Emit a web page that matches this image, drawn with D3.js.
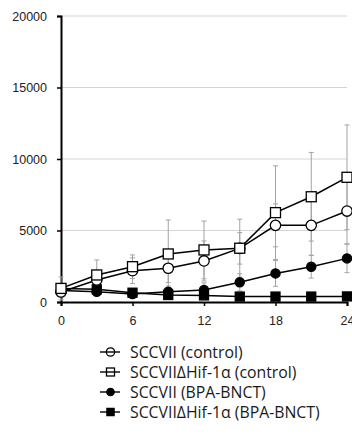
<!DOCTYPE html>
<html>
<head>
<meta charset="utf-8">
<script src="https://cdn.jsdelivr.net/npm/d3@7"></script>
<style>
  html, body { margin: 0; padding: 0; background: #fff; }
  svg { display: block; font-family: "Open Sans", "Noto Sans", sans-serif; }
</style>
</head>
<body>
<svg id="chart" width="352" height="439"></svg>
<script>
// Tumour volume over days after treatment
const days = [0, 3, 6, 9, 12, 15, 18, 21, 24];

const ctrlMean    = [700, 1540, 2190, 2360, 2870, 3750, 5360, 5360, 6360];
const ctrlSd      = [250, 700, 900, 1000, 1400, 1100, 1500, 2100, 2300];

const hifCtrlMean = [950, 1890, 2470, 3360, 3640, 3760, 6250, 7360, 8720];
const hifCtrlSd   = [800, 1050, 820, 2370, 2020, 2030, 3270, 3100, 3660];

const bnctMean    = [800, 720, 560, 720, 840, 1380, 2000, 2470, 3050];
const bnctSd      = [200, 250, 200, 400, 500, 600, 900, 800, 1000];

const hifBnctMean = [950, 890, 650, 490, 460, 380, 380, 380, 390];
const hifBnctSd   = [250, 300, 150, 150, 150, 100, 100, 100, 100];

const xTicks = [0, 6, 12, 18, 24];
const yTicks = [0, 5000, 10000, 15000, 20000];

const seriesNames = [
  "SCCVII (control)",
  "SCCVII\u0394Hif-1\u03b1 (control)",
  "SCCVII (BPA-BNCT)",
  "SCCVII\u0394Hif-1\u03b1 (BPA-BNCT)"
];

const series = [
  { name: seriesNames[0], mean: ctrlMean,    sd: ctrlSd,    shape: "circle", filled: false },
  { name: seriesNames[1], mean: hifCtrlMean, sd: hifCtrlSd, shape: "square", filled: false },
  { name: seriesNames[2], mean: bnctMean,    sd: bnctSd,    shape: "circle", filled: true },
  { name: seriesNames[3], mean: hifBnctMean, sd: hifBnctSd, shape: "square", filled: true }
];

const svg = d3.select("#chart");
const plotLeft = 61, plotRight = 347, plotTop = 16, plotBottom = 302;

const x = d3.scaleLinear().domain([0, 24]).range([plotLeft, plotRight]);
const y = d3.scaleLinear().domain([0, 20000]).range([plotBottom, plotTop]);

// gridlines
svg.append("g")
  .selectAll("line")
  .data(yTicks.filter(d => d > 0))
  .join("line")
  .attr("x1", plotLeft).attr("x2", plotRight)
  .attr("y1", d => y(d)).attr("y2", d => y(d))
  .attr("stroke", "#d4d4d4").attr("stroke-width", 1);

// axes
const yAxis = svg.append("g")
  .attr("transform", `translate(${plotLeft},0)`)
  .call(d3.axisLeft(y).tickValues(yTicks).tickSize(4).tickPadding(10).tickFormat(d3.format("d")));
yAxis.select(".domain").attr("stroke", "#000").attr("stroke-width", 2);
yAxis.selectAll(".tick line").attr("stroke", "#000").attr("stroke-width", 1.5);
yAxis.selectAll("text").attr("font-size", 12.5).attr("fill", "#222");

const xAxis = svg.append("g")
  .attr("transform", `translate(0,${plotBottom})`)
  .call(d3.axisBottom(x).tickValues(xTicks).tickSize(4).tickPadding(10).tickFormat(d3.format("d")));
xAxis.select(".domain").attr("stroke", "#000").attr("stroke-width", 2);
xAxis.selectAll(".tick line").attr("stroke", "#000").attr("stroke-width", 1.5);
xAxis.selectAll("text").attr("font-size", 12.5).attr("fill", "#222");

// error bars
const err = svg.append("g").attr("stroke", "#a3a3a3").attr("stroke-width", 1);
series.forEach(s => {
  days.forEach((d, i) => {
    const cx = x(d);
    const y1 = y(s.mean[i] + s.sd[i]);
    const y0 = y(Math.max(0, s.mean[i] - s.sd[i]));
    err.append("line").attr("x1", cx).attr("x2", cx).attr("y1", y1).attr("y2", y0);
    err.append("line").attr("x1", cx - 2.5).attr("x2", cx + 2.5).attr("y1", y1).attr("y2", y1);
    err.append("line").attr("x1", cx - 2.5).attr("x2", cx + 2.5).attr("y1", y0).attr("y2", y0);
  });
});

function drawMarker(g, shape, filled, cx, cy, scale = 1, fillOpen = "#fff") {
  if (shape === "circle") {
    g.append("circle").attr("cx", cx).attr("cy", cy).attr("r", (filled ? 4.6 : 5.2) * scale)
      .attr("fill", filled ? "#000" : fillOpen).attr("stroke", "#000").attr("stroke-width", 1.3);
  } else {
    const s = (filled ? 9 : 10) * scale;
    g.append("rect").attr("x", cx - s / 2).attr("y", cy - s / 2).attr("width", s).attr("height", s)
      .attr("fill", filled ? "#000" : fillOpen).attr("stroke", "#000").attr("stroke-width", 1.3);
  }
}

const line = d3.line().x((d, i) => x(days[i])).y(d => y(d));

// lines and markers, drawn bottom series first
[3, 2, 0, 1].forEach(k => {
  const s = series[k];
  const g = svg.append("g");
  g.append("path").datum(s.mean).attr("d", line)
    .attr("fill", "none").attr("stroke", "#000").attr("stroke-width", 1.5);
  s.mean.forEach((v, i) => drawMarker(g, s.shape, s.filled, x(days[i]), y(v)));
});

// legend
const legend = svg.append("g");
series.forEach((s, i) => {
  const cy = 352 + i * 20;
  const g = legend.append("g");
  drawMarker(g, s.shape, s.filled, 110.5, cy, 0.8, "none");
  g.append("line").attr("x1", 100).attr("x2", 120).attr("y1", cy).attr("y2", cy)
    .attr("stroke", "#000").attr("stroke-width", 1.4);
  g.append("text").attr("x", 130).attr("y", cy + 5.5)
    .attr("font-size", 15.8).attr("fill", "#1a1a1a").text(s.name);
});
</script>
</body>
</html>
